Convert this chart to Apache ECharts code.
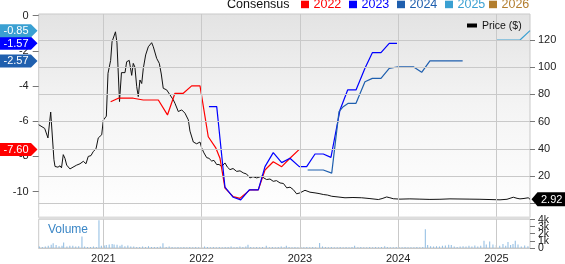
<!DOCTYPE html>
<html><head><meta charset="utf-8">
<script src="https://cdn.jsdelivr.net/npm/echarts@6/dist/echarts.min.js"></script>
<style>html,body{margin:0;padding:0;background:#fff;overflow:hidden}#c{width:565px;height:264px}</style>
</head><body><div id="c"></div>
<script>
// ---- data (x values are decimal years) ----
const yearTicks = [2021, 2022, 2023, 2024, 2025];
const leftTicks = [0, -2, -4, -6, -8, -10];
const priceTicks = [0, 20, 40, 60, 80, 100, 120];
const volumeTicks = [0, 1, 2, 3, 4];

const price = [
[2020.343,57.7],[2020.404,55],[2020.437,48],[2020.465,67],[2020.478,66],[2020.498,32],[2020.509,27],
[2020.539,26.5],[2020.560,27.5],[2020.575,26],[2020.593,35.7],[2020.610,33],[2020.628,28],[2020.661,25.2],
[2020.692,26.5],[2020.729,28],[2020.763,29],[2020.797,30.8],[2020.824,29],[2020.847,34.4],[2020.875,35],
[2020.898,38],[2020.926,40],[2020.949,48],[2020.966,47],[2020.984,50.3],[2021.000,61],[2021.031,64],
[2021.048,95.5],[2021.075,105],[2021.089,118.7],[2021.109,118.7],[2021.124,126],[2021.139,118],
[2021.165,74.7],[2021.185,96],[2021.221,96],[2021.238,104],[2021.264,105],[2021.289,94],[2021.305,102.8],
[2021.322,100],[2021.340,85.7],[2021.356,78.4],[2021.373,90.6],[2021.391,88],[2021.407,99],[2021.431,109],
[2021.458,115],[2021.492,118],[2021.509,115],[2021.543,106.5],[2021.570,102.8],[2021.590,95],[2021.610,84.5],
[2021.645,83.3],[2021.679,79.6],[2021.712,76],[2021.729,73.5],[2021.763,67.4],[2021.798,68.6],[2021.831,66.2],
[2021.865,61.3],[2021.882,53],[2021.916,45],[2021.950,43.7],[2021.984,45],[2022.001,40.6],[2022.024,37],
[2022.052,33.5],[2022.075,33],[2022.103,31],[2022.126,31.5],[2022.154,28.4],[2022.177,28.5],[2022.204,27],
[2022.238,29.6],[2022.263,26.5],[2022.289,24.7],[2022.320,25.5],[2022.357,23.4],[2022.391,23.8],[2022.424,22.3],
[2022.457,21.5],[2022.492,18.6],[2022.523,19.5],[2022.561,18.6],[2022.611,19.8],[2022.635,18.5],[2022.662,17.4],
[2022.696,17.8],[2022.729,16.1],[2022.762,16.6],[2022.798,14.9],[2022.833,14.5],[2022.866,11.3],[2022.900,11.8],
[2022.933,10],[2022.967,6.9],[2023.001,7.6],[2023.052,9.5],[2023.103,8.1],[2023.154,7.6],[2023.195,7.1],
[2023.238,6.4],[2023.281,6.0],[2023.324,5.1],[2023.388,4.6],[2023.459,4.0],[2023.540,4.2],[2023.629,4.0],
[2023.713,3.4],[2023.798,2.7],[2023.836,3.4],[2023.883,4.6],[2023.916,4.0],[2023.950,3.3],[2024.018,3.0],
[2024.119,3.2],[2024.221,3.0],[2024.323,2.8],[2024.425,2.9],[2024.527,3.2],[2024.629,3.1],[2024.730,3.0],
[2024.832,2.9],[2024.934,2.7],[2025.036,2.5],[2025.107,2.9],[2025.171,4.4],[2025.209,3.6],[2025.239,3.2],
[2025.280,3.5],[2025.323,4.0],[2025.341,2.92]
];

const est2022 = [
[2021.075,-4.89],[2021.153,-4.69],[2021.305,-4.69],[2021.407,-4.79],[2021.560,-4.79],[2021.653,-5.64],
[2021.729,-4.41],[2021.814,-4.41],[2021.899,-3.99],[2021.984,-3.99],[2022.068,-6.88],[2022.146,-7.53],
[2022.187,-8.1],[2022.238,-9.8],[2022.322,-10.28],[2022.391,-10.38],[2022.492,-9.9],[2022.577,-9.9],
[2022.645,-8.77],[2022.729,-8.3],[2022.815,-8.58],[2022.899,-8.1],[2022.994,-7.60]
];
const est2023 = [
[2022.075,-5.17],[2022.154,-5.17],[2022.238,-9.75],[2022.322,-10.32],[2022.398,-10.47],[2022.485,-9.9],
[2022.577,-9.9],[2022.645,-8.58],[2022.729,-7.78],[2022.815,-8.35],[2022.899,-8.1],[2022.994,-8.58],
[2023.069,-8.58],[2023.154,-7.86],[2023.238,-7.86],[2023.316,-8.05],[2023.408,-5.36],[2023.486,-4.22],
[2023.571,-4.22],[2023.662,-2.99],[2023.737,-2.1],[2023.825,-2.1],[2023.909,-1.57],[2023.988,-1.57]
];
const est2024 = [
[2023.079,-8.77],[2023.238,-8.77],[2023.324,-8.95],[2023.398,-5.45],[2023.441,-5.17],[2023.492,-4.98],
[2023.571,-4.98],[2023.662,-3.75],[2023.737,-3.56],[2023.825,-3.56],[2023.909,-2.99],[2024.001,-2.9],
[2024.154,-2.9],[2024.239,-3.22],[2024.323,-2.57],[2024.493,-2.56],[2024.656,-2.57]
];
const est2025 = [
[2024.995,-1.38],[2025.239,-1.38],[2025.341,-0.85]
];

// volume in thousands
const volume = [
[2020.35,0.2],[2020.38,0.15],[2020.41,0.2],[2020.44,0.3],[2020.47,0.45],[2020.49,0.65],[2020.52,0.4],
[2020.55,0.25],[2020.58,0.3],[2020.597,0.75],[2020.63,0.2],[2020.66,0.3],[2020.69,0.3],[2020.72,0.2],
[2020.75,0.25],[2020.783,1.6],[2020.81,0.2],[2020.84,0.15],[2020.87,0.15],[2020.90,0.2],[2020.93,0.15],
[2020.956,3.85],[2020.98,0.3],[2021.01,0.35],[2021.03,0.4],[2021.06,0.5],[2021.09,0.55],[2021.11,0.5],
[2021.14,0.45],[2021.17,0.3],[2021.19,0.45],[2021.22,0.25],[2021.25,0.35],[2021.28,0.2],[2021.31,0.2],
[2021.34,0.15],[2021.37,0.15],[2021.40,0.2],[2021.43,0.15],[2021.46,0.25],[2021.49,0.15],[2021.52,0.15],
[2021.55,0.15],[2021.58,0.2],[2021.607,0.65],[2021.64,0.15],[2021.67,0.2],[2021.70,0.15],[2021.73,0.1],
[2021.76,0.15],[2021.79,0.1],[2021.82,0.15],[2021.85,0.1],[2021.88,0.15],[2021.91,0.1],[2021.94,0.15],
[2021.97,0.1],[2022.00,0.15],[2022.03,0.2],[2022.06,0.15],[2022.09,0.1],[2022.12,0.15],[2022.15,0.1],
[2022.18,0.15],[2022.21,0.1],[2022.24,0.15],[2022.27,0.15],[2022.30,0.2],[2022.33,0.1],[2022.36,0.15],
[2022.39,0.2],[2022.42,0.15],[2022.45,0.2],[2022.472,0.45],[2022.50,0.15],[2022.53,0.1],[2022.56,0.15],
[2022.59,0.1],[2022.62,0.15],[2022.658,0.3],[2022.69,0.1],[2022.72,0.15],[2022.75,0.1],[2022.78,0.15],
[2022.81,0.2],[2022.84,0.1],[2022.862,0.3],[2022.89,0.15],[2022.92,0.1],[2022.95,0.15],[2022.98,0.1],
[2023.01,0.15],[2023.04,0.1],[2023.07,0.15],[2023.10,0.1],[2023.13,0.15],[2023.16,0.1],[2023.201,0.7],
[2023.23,0.2],[2023.26,0.15],[2023.29,0.1],[2023.32,0.15],[2023.35,0.1],[2023.38,0.1],[2023.41,0.15],
[2023.44,0.1],[2023.47,0.15],[2023.50,0.1],[2023.53,0.15],[2023.557,0.3],[2023.59,0.1],[2023.62,0.15],
[2023.65,0.1],[2023.68,0.1],[2023.71,0.15],[2023.74,0.1],[2023.77,0.15],[2023.80,0.1],[2023.83,0.15],
[2023.863,0.25],[2023.89,0.15],[2023.92,0.1],[2023.95,0.1],[2023.98,0.15],[2024.01,0.1],[2024.04,0.1],
[2024.07,0.15],[2024.10,0.1],[2024.13,0.1],[2024.16,0.1],[2024.19,0.15],[2024.22,0.1],[2024.25,0.15],
[2024.276,2.6],[2024.30,0.4],[2024.33,0.25],[2024.36,0.2],[2024.39,0.25],[2024.42,0.2],[2024.45,0.3],
[2024.48,0.35],[2024.514,0.45],[2024.54,0.4],[2024.57,0.2],[2024.60,0.15],[2024.63,0.2],[2024.66,0.25],
[2024.69,0.2],[2024.72,0.3],[2024.75,0.2],[2024.78,0.35],[2024.81,0.2],[2024.84,0.3],[2024.873,1.0],
[2024.896,0.5],[2024.931,0.9],[2024.964,0.5],[2024.998,0.4],[2025.033,0.3],[2025.066,0.55],[2025.094,0.3],
[2025.117,0.85],[2025.144,0.4],[2025.168,0.55],[2025.191,1.0],[2025.219,0.5],[2025.252,0.2],[2025.287,0.35],
[2025.320,0.25]
];

const legendItems = ['2022','2023','2024','2025','2026'];
const legendColors = ['#ff0000','#0000ff','#1f5fae','#3aa0d2','#b37e2e'];
const estSeries = [est2022, est2023, est2024, est2025];

// ---- chart ----
const FONT = '"Liberation Sans", Arial, sans-serif';
const X_MIN = 2020.343, X_MAX = 2025.341;
const GL = 38.7, GW = 491.3;
const chart = echarts.init(document.getElementById('c'), null, {renderer:'canvas'});
const gridCol = '#c9c9c9';

const option = {
  animation: false,
  backgroundColor: '#ffffff',
  grid: [
    {left: GL, width: GW, top: 14, height: 203.5, show: true, borderWidth: 1, borderColor: gridCol,
     backgroundColor: new echarts.graphic.LinearGradient(0,0,0,1,[
       {offset:0,color:'#e3e3e3'},{offset:0.45,color:'#f4f4f4'},{offset:1,color:'#ffffff'}])},
    {left: GL, width: GW, top: 219.2, height: 34.3, show: true, borderWidth: 1, borderColor: gridCol, backgroundColor:'#ffffff'}
  ],
  xAxis: [
    {type:'value', gridIndex:0, min:X_MIN, max:X_MAX, show:false, splitLine:{show:false}},
    {type:'value', gridIndex:1, min:X_MIN, max:X_MAX,
     axisLine:{show:true, lineStyle:{color:gridCol}}, axisTick:{show:false}, splitLine:{show:false},
     axisLabel:{customValues:yearTicks, formatter:v=>String(v), color:'#222', fontSize:11, fontFamily:FONT, margin:5}}
  ],
  yAxis: [
    {type:'value', gridIndex:0, position:'left', min:-11.47, max:0.097,
     axisLine:{show:false}, splitLine:{show:false},
     axisTick:{show:true, customValues:leftTicks, length:6, lineStyle:{color:'#777'}},
     axisLabel:{customValues:leftTicks, color:'#222', fontSize:11, fontFamily:FONT, margin:10}},
    {type:'value', gridIndex:0, position:'right', min:-10.5, max:139.1,
     axisLine:{show:false}, splitLine:{show:false},
     axisTick:{show:true, customValues:priceTicks, length:5, lineStyle:{color:'#777'}},
     axisLabel:{customValues:priceTicks, color:'#222', fontSize:11, fontFamily:FONT, margin:8}},
    {type:'value', gridIndex:1, position:'right', min:0, max:4,
     axisLine:{show:false}, splitLine:{show:false},
     axisTick:{show:true, customValues:volumeTicks, length:5, lineStyle:{color:'#777'}},
     axisLabel:{show:false}}
  ],
  series: [
    {type:'line', xAxisIndex:0, yAxisIndex:1, data:price, symbol:'none', silent:true, z:1,
     lineStyle:{opacity:0},
     markLine:{silent:true, symbol:['none','none'], label:{show:false}, animation:false,
       lineStyle:{color:gridCol, type:'solid', width:1},
       data: priceTicks.map(v=>({yAxis:v})).concat(yearTicks.map(v=>({xAxis:v})))}},
    {type:'line', xAxisIndex:1, yAxisIndex:2, data:volume, symbol:'none', silent:true, z:1,
     lineStyle:{opacity:0},
     markLine:{silent:true, symbol:['none','none'], label:{show:false}, animation:false,
       lineStyle:{color:gridCol, type:'solid', width:1},
       data: yearTicks.map(v=>({xAxis:v}))}},
    {type:'bar', xAxisIndex:1, yAxisIndex:2, data:volume, barWidth:1, silent:true, z:2,
     itemStyle:{color:'#8dbbe2'}},
    {type:'line', xAxisIndex:0, yAxisIndex:1, data:price, symbol:'none', silent:true, z:3,
     lineStyle:{color:'#111', width:1}},
  ].concat(estSeries.map((d,i)=>({
    type:'line', xAxisIndex:0, yAxisIndex:0, data:d, symbol:'none', silent:true, z:4,
    lineStyle:{color:legendColors[i], width:1.2}
  })))
};
chart.setOption(option);

// ---- graphics: legend, labels, badges ----
const g = [];
g.push({type:'rect', shape:{x:GL, y:216.6, width:GW, height:2.4}, style:{fill:'#dddddd'}, z:50, silent:true});
g.push({type:'text', style:{text:'Volume', x:48, y:229.5, fill:'#3a86c6', font:'12px '+FONT, textVerticalAlign:'middle'}, z:50});
// volume axis labels placed through the volume axis scale
volumeTicks.forEach(v=>{
  const y = chart.convertToPixel({yAxisIndex:2}, v);
  g.push({type:'text', style:{text: v===0 ? '0' : v+'k', x:538, y:y+0.5, fill:'#222', font:'10.5px '+FONT, textVerticalAlign:'middle'}, z:50});
});
// top legend
g.push({type:'text', style:{text:'Consensus', x:227, y:5, fill:'#111', font:'12.5px '+FONT, textVerticalAlign:'middle'}, z:50});
const lx = [301, 349, 397, 445, 489];
legendItems.forEach((t,i)=>{
  g.push({type:'rect', shape:{x:lx[i], y:0.7, width:8, height:7.5}, style:{fill:legendColors[i]}, z:50});
  g.push({type:'text', style:{text:t, x:lx[i]+12.5, y:5, fill:legendColors[i], font:'12.5px '+FONT, textVerticalAlign:'middle'}, z:50});
});
// price legend
g.push({type:'rect', shape:{x:467, y:23.5, width:10, height:4}, style:{fill:'#000'}, z:50});
g.push({type:'text', style:{text:'Price ($)', x:482, y:26, fill:'#111', font:'10.5px '+FONT, textVerticalAlign:'middle'}, z:50});
// left badges from last estimates
const badgeOrder = [2,1,3,0];
badgeOrder.forEach(i=>{
  const d = estSeries[i];
  const v = d[d.length-1][1];
  const y = chart.convertToPixel({yAxisIndex:0}, v);
  g.push({type:'polygon', shape:{points:[[0,y-6.5],[31,y-6.5],[37.5,y],[31,y+6.5],[0,y+6.5]]},
    style:{fill:legendColors[i]}, z:60});
  g.push({type:'text', style:{text:v.toFixed(2), x:3.5, y:y+0.5, fill:'#fff', font:'11px '+FONT, textVerticalAlign:'middle'}, z:61});
});
// right price badge
{
  const v = price[price.length-1][1];
  const y = chart.convertToPixel({yAxisIndex:1}, v);
  g.push({type:'polygon', shape:{points:[[531.5,y],[537.5,y-7],[565,y-7],[565,y+7],[537.5,y+7]]},
    style:{fill:'#000'}, z:60});
  g.push({type:'text', style:{text:v.toFixed(2), x:541, y:y+0.5, fill:'#fff', font:'11px '+FONT, textVerticalAlign:'middle'}, z:61});
}
chart.setOption({graphic: g});
</script></body></html>
